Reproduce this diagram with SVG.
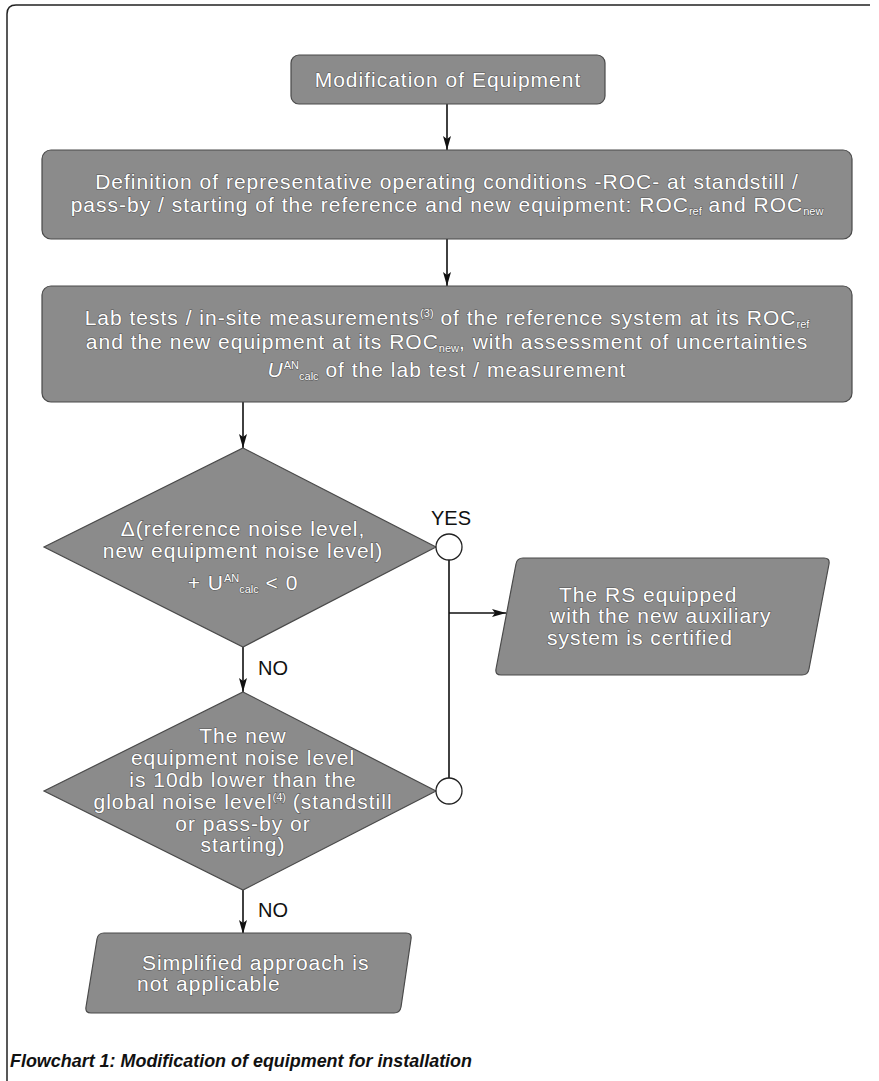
<svg xmlns="http://www.w3.org/2000/svg" width="879" height="1081" viewBox="0 0 879 1081">
<defs>
<style>
.shape{fill:#8b8b8b;stroke:#4a4a4a;stroke-width:1.2}
.t{font-family:"Liberation Sans",Arial,sans-serif;font-size:21px;letter-spacing:1px;fill:#ffffff;stroke:#555555;stroke-width:1.1;paint-order:stroke;text-anchor:middle}
.ts{text-anchor:start}
.s{font-size:11px;letter-spacing:0}
.lbl{font-family:"Liberation Sans",Arial,sans-serif;font-size:20px;fill:#111111}
.conn{fill:none;stroke:#111111;stroke-width:1.6}
.circ{fill:#ffffff;stroke:#222222;stroke-width:1.3}
.cap{font-family:"Liberation Sans",Arial,sans-serif;font-size:18px;font-weight:bold;font-style:italic;fill:#111111}
</style>
<marker id="ah" viewBox="0 0 14 8" refX="14" refY="4" markerWidth="14" markerHeight="8" orient="auto" markerUnits="userSpaceOnUse">
<path d="M0,0 L14,4 L0,8 L3,4 z" fill="#111111"/>
</marker>
</defs>
<rect x="0" y="0" width="879" height="1081" fill="#ffffff"/>
<path d="M7 1081 V14 Q7 5 16 5 H870" fill="none" stroke="#222222" stroke-width="1.5"/>

<g id="connectors">
<path class="conn" d="M447 104 V150" marker-end="url(#ah)"/>
<path class="conn" d="M447 239 V286" marker-end="url(#ah)"/>
<path class="conn" d="M243 402 V448" marker-end="url(#ah)"/>
<path class="conn" d="M243 647 V692" marker-end="url(#ah)"/>
<path class="conn" d="M243 890 V934" marker-end="url(#ah)"/>
<path class="conn" d="M449 560 V778"/>
<path class="conn" d="M449 613 H506" marker-end="url(#ah)"/>
<text class="lbl" x="431" y="525">YES</text>
<text class="lbl" x="258" y="675">NO</text>
<text class="lbl" x="258" y="917">NO</text>
</g>

<g id="n-start">
<rect class="shape" x="291" y="55" width="314" height="49" rx="8"/>
<text class="t" x="448" y="87">Modification of Equipment</text>
</g>

<g id="n-definition">
<rect class="shape" x="42" y="150" width="810" height="89" rx="9"/>
<text class="t" x="447" y="189">Definition of representative operating conditions -ROC- at standstill /</text>
<text class="t" x="447" y="212">pass-by / starting of the reference and new equipment: ROC<tspan class="s" dy="3">ref</tspan><tspan dy="-3"> and ROC</tspan><tspan class="s" dy="3">new</tspan></text>
</g>

<g id="n-tests">
<rect class="shape" x="42" y="286" width="810" height="116" rx="9"/>
<text class="t" x="447" y="325">Lab tests / in-site measurements<tspan class="s" dy="-8">(3)</tspan><tspan dy="8"> of the reference system at its ROC</tspan><tspan class="s" dy="3">ref</tspan></text>
<text class="t" x="447" y="349">and the new equipment at its ROC<tspan class="s" dy="3">new</tspan><tspan dy="-3">, with assessment of uncertainties</tspan></text>
<text class="t" x="447" y="377"><tspan font-style="italic">U</tspan><tspan class="s" dy="-8">AN</tspan><tspan class="s" dy="11">calc</tspan><tspan dy="-3"> of the lab test / measurement</tspan></text>
</g>

<g id="n-decision1">
<polygon class="shape" points="243,448 436,547 243,647 44,547"/>
<text class="t" x="243" y="536">Δ(reference noise level,</text>
<text class="t" x="243" y="558">new equipment noise level)</text>
<text class="t" x="243" y="590">+ U<tspan class="s" dy="-8">AN</tspan><tspan class="s" dy="11">calc</tspan><tspan dy="-3"> &lt; 0</tspan></text>
</g>

<g id="n-yes1">
<circle class="circ" cx="449" cy="547" r="13"/>
</g>

<g id="n-certified">
<path class="shape" d="M523 558 H824 Q830 558 829 564 L809 669 Q808 675 802 675 H501 Q495 675 496 669 L516 564 Q517 558 523 558 Z"/>
<text class="t ts" x="559" y="602">The RS equipped</text>
<text class="t ts" x="550" y="623">with the new auxiliary</text>
<text class="t ts" x="547" y="645">system is certified</text>
</g>

<g id="n-decision2">
<polygon class="shape" points="243,692 436,791 243,890 44,791"/>
<text class="t" x="243" y="743">The new</text>
<text class="t" x="243" y="765">equipment noise level</text>
<text class="t" x="243" y="787">is 10db lower than the</text>
<text class="t" x="243" y="809">global noise level<tspan class="s" dy="-8">(4)</tspan><tspan dy="8"> (standstill</tspan></text>
<text class="t" x="243" y="831">or pass-by or</text>
<text class="t" x="243" y="852">starting)</text>
</g>

<g id="n-yes2">
<circle class="circ" cx="449" cy="791" r="13"/>
</g>

<g id="n-notapplicable">
<path class="shape" d="M104 933 H406 Q412 933 411 939 L401 1007 Q400 1013 394 1013 H91 Q85 1013 86 1007 L97 939 Q98 933 104 933 Z"/>
<text class="t ts" x="142" y="970">Simplified approach is</text>
<text class="t ts" x="137" y="991">not applicable</text>
</g>

<text class="cap" x="10" y="1067" textLength="462" lengthAdjust="spacingAndGlyphs">Flowchart 1: Modification of equipment for installation</text>
</svg>
